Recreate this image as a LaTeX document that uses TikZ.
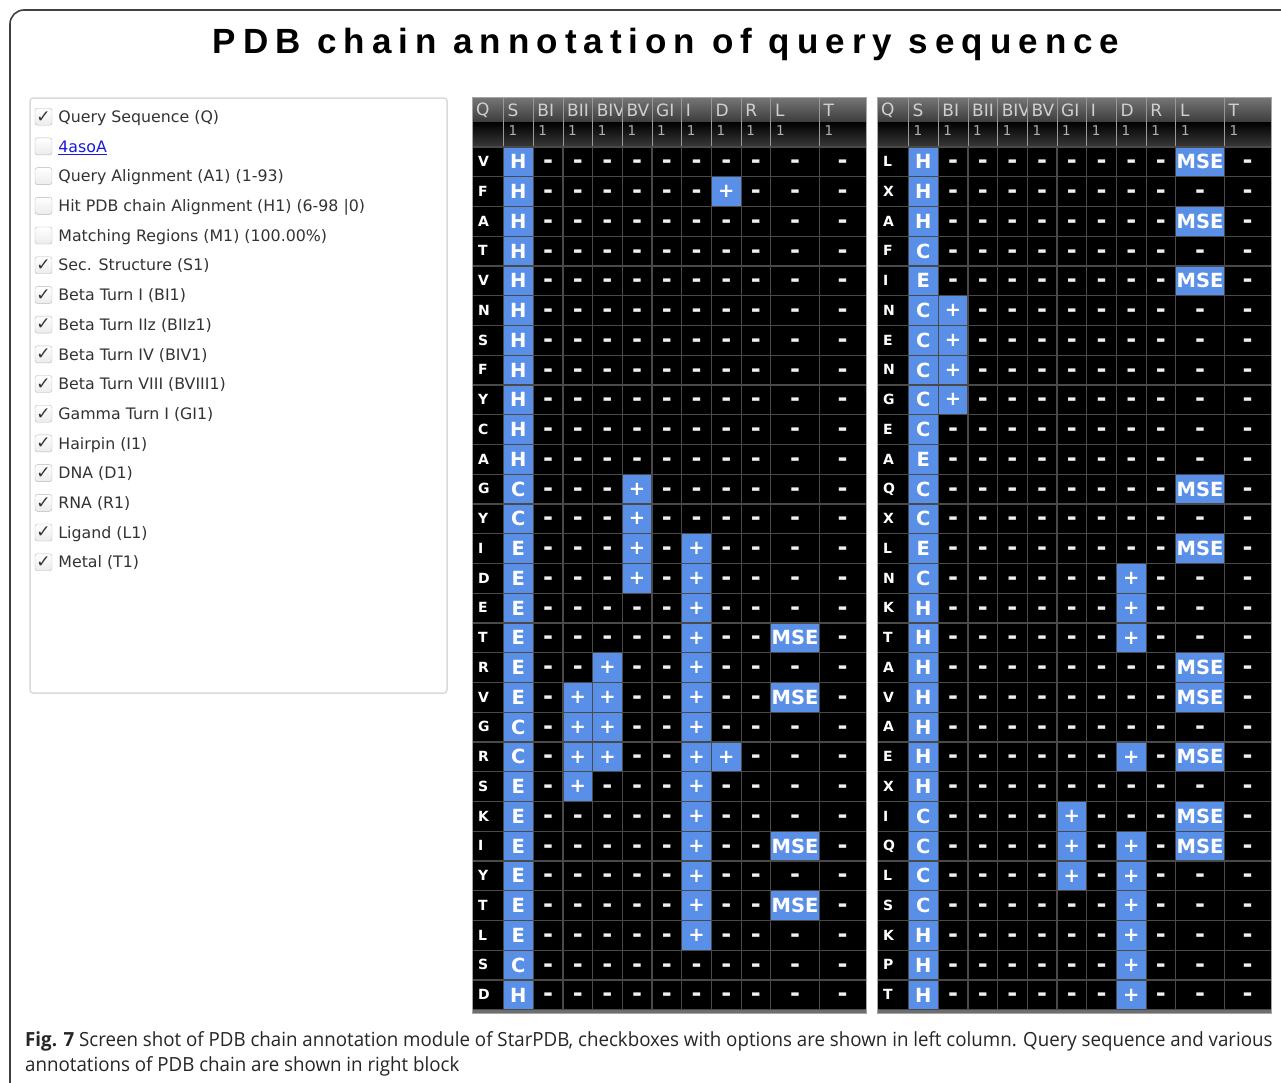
\documentclass[tikz,border=0pt]{standalone}
\usepackage{fontspec}
\setmainfont{DejaVu Sans}
\newfontfamily\titlefont{Liberation Sans}[LetterSpace=20]
\newfontfamily\capfont{Open Sans}[FakeStretch=0.96]
\usetikzlibrary{positioning}
\definecolor{cellblue}{HTML}{5A8FE8}
\definecolor{gridgray}{HTML}{4A4A4A}
\definecolor{hdtop}{HTML}{777777}
\definecolor{hdmid}{HTML}{3C3C3C}
\definecolor{hdlow}{HTML}{3A3A3A}
\definecolor{hdtext}{HTML}{D0D0D0}
\definecolor{labeltext}{HTML}{333333}
\definecolor{linkblue}{HTML}{1A1ADD}
\definecolor{boxgray}{HTML}{B8B8B8}
\definecolor{panelgray}{HTML}{DADADA}

% column edges of an annotation table (Q, S, BI ... R, L, T), from its left side
\def\colx{{0,31.5,61.2,90.9,120.6,150.3,180,209.7,239.4,269.1,298.8,347.3,394}}

\makeatletter
% #1 name prefix, #2 left x, #3 rows as residue/structure/marked columns
\newcommand{\annotable}[3]{%
  % body and header bars
  \fill[black] (#2,97) rectangle ++(394,916);
  \shade[top color=hdtop, bottom color=hdmid] (#2,97) rectangle ++(394,25);
  \shade[top color=black, bottom color=hdlow] (#2,122) rectangle ++(394,25);
  \fill[gridgray!80] (#2,1010) rectangle ++(394,3);
  % column titles and counts
  \foreach \h/\xl/\xr [count=\c from 0] in {Q/0/31.5, S/31.5/61.2, BI/61.2/90.9, BII/90.9/120.6, BIV/120.6/150.3, BV/150.3/180, GI/180/209.7, I/209.7/239.4, D/239.4/269.1, R/269.1/298.8, L/298.8/347.3, T/347.3/394} {
    \begin{scope}
      \clip (#2+\xl,97) rectangle (#2+\xr,122);
      \node[hdcell] (#1-h\c) at (#2+\xl+4,110) {\h};
    \end{scope}
    \ifnum\c>0 \node[hdnum] (#1-n\c) at (#2+\xl+5,131) {1}; \fi
    \draw[hdline] (#2+\xl,97) -- (#2+\xl,147);
  }
  % residue rows
  \foreach \q/\s/\marks [count=\r] in {#3} {
    \pgfmathsetmacro\yc{147+(\r-0.5)*29.75}
    \node[res] (#1-q\r) at (#2+6,\yc+4.7) {\q};
    \gdef\hitset{,}
    \foreach \m in \marks {\xdef\hitset{\hitset\m,}}
    \foreach \c in {2,...,11} {
      \edef\next{\noexpand\in@{,\c,}{\hitset}}\next
      \ifin@
        \pgfmathsetmacro\xc{#2+(\colx[\c]+\colx[\c+1])/2}
        \pgfmathsetmacro\w{\colx[\c+1]-\colx[\c]}
        \node[hit, minimum width=\w] (#1-m\r-\c) at (\xc,\yc) {\ifnum\c=10 MSE\else +\fi};
      \else
        \pgfmathsetmacro\xc{#2+(\colx[\c]+\colx[\c+1])/2}
        \node[nil] (#1-d\r-\c) at (\xc,\yc+7) {-};
      \fi
    }
    \node[hit, minimum width=29.7] (#1-s\r) at (#2+46.35,\yc) {\s};
  }
  % grid
  \foreach \xl in {31.5,61.2,90.9,120.6,150.3,180,209.7,239.4,269.1,298.8,347.3}
    \draw[gridline] (#2+\xl,147) -- (#2+\xl,1010);
  \foreach \r in {0,...,29}
    \draw[gridline] (#2,147+\r*29.75) -- ++(394,0);
  \draw[gray!70] (#2,97) rectangle ++(394,916);
}
\makeatother

\begin{document}
\begin{tikzpicture}[x=1pt, y=-1pt,
    hdcell/.style={anchor=west, inner sep=0, text=hdtext, font=\fontsize{17}{17}\selectfont},
    hdnum/.style={anchor=west, inner sep=0, text=hdtext!85!black, font=\fontsize{13.5}{13.5}\selectfont},
    hdline/.style={gray!80, line width=0.8},
    res/.style={anchor=base west, inner sep=0, text=white, font=\bfseries\fontsize{14}{14}\selectfont},
    nil/.style={anchor=base, inner sep=0, text=white!88!gray, font=\bfseries\fontsize{24}{24}\selectfont},
    hit/.style={fill=cellblue, inner sep=0, minimum height=29.75, text=white, font=\bfseries\fontsize{19.5}{19.5}\selectfont},
    gridline/.style={gridgray, line width=1.2},
    chkbox/.style={draw=boxgray, rounded corners=2.5, top color=white, bottom color=gray!15, minimum size=17, inner sep=0, text=black!80, font=\fontsize{17}{17}\selectfont},
    optlabel/.style={inner sep=0, text height=11.5pt, text depth=0pt, text=labeltext, font=\fontsize{15.8}{18}\selectfont},
    capt/.style={anchor=base west, inner sep=0, text=black!85, font=\capfont\fontsize{19.5}{24}\selectfont}]
  \fill[white] (0,0) rectangle (1281,1082);
  \useasboundingbox (0,0) rectangle (1281,1082);
  % outer frame and title
  \draw[line width=1.6, black!75, rounded corners=14] (10,1090) |- (1290,10);
  \node[font=\titlefont\bfseries\fontsize{35}{40}\selectfont] (title) at (666,44) {PDB chain annotation of query sequence};

  % option list
  \draw[draw=panelgray, line width=1.5, rounded corners=3, fill=white] (30,98) rectangle (447,693);
  \foreach \lbl/\chk [count=\i] in {Query Sequence (Q)/1, {\color{linkblue}\underline{4asoA}}/0,
      Query Alignment (A1) (1-93)/0, Hit PDB chain Alignment (H1) (6-98 |0)/0,
      Matching Regions (M1) (100.00\%)/0, Sec. Structure (S1)/1, Beta Turn I (BI1)/1,
      Beta Turn IIz (BIIz1)/1, Beta Turn IV (BIV1)/1, Beta Turn VIII (BVIII1)/1,
      Gamma Turn I (GI1)/1, Hairpin (I1)/1, DNA (D1)/1, RNA (R1)/1, Ligand (L1)/1, Metal (T1)/1} {
    \pgfmathsetmacro\yy{116.7+(\i-1)*29.7}
    \node[chkbox] (box\i) at (43.5,\yy) {\ifnum\chk=1 ✓\fi};
    \node[optlabel, right=6pt of box\i] (opt\i) {\lbl};
  }

  % annotation tables
  \annotable{lt}{472}{V/H/0, F/H/8, A/H/0, T/H/0, V/H/0, N/H/0, S/H/0, F/H/0, Y/H/0, C/H/0,
    A/H/0, G/C/5, Y/C/5, I/E/{5,7}, D/E/{5,7}, E/E/7, T/E/{7,10}, R/E/{4,7}, V/E/{3,4,7,10},
    G/C/{3,4,7}, R/C/{3,4,7,8}, S/E/{3,7}, K/E/7, I/E/{7,10}, Y/E/7, T/E/{7,10}, L/E/7, S/C/0, D/H/0}
  \annotable{rt}{877}{L/H/10, X/H/0, A/H/10, F/C/0, I/E/10, N/C/2, E/C/2, N/C/2, G/C/2, E/C/0,
    A/E/0, Q/C/10, X/C/0, L/E/10, N/C/8, K/H/8, T/H/8, A/H/10, V/H/10, A/H/0, E/H/{8,10},
    X/H/0, I/C/{6,10}, Q/C/{6,8,10}, L/C/{6,8}, S/C/8, K/H/8, P/H/8, T/H/8}

  % caption
  \node[capt] (cap1) at (25,1046) {\textbf{Fig. 7} Screen shot of PDB chain annotation module of StarPDB, checkboxes with options are shown in left column. Query sequence and various};
  \node[capt] (cap2) at (25,1071) {annotations of PDB chain are shown in right block};
\end{tikzpicture}
\end{document}
